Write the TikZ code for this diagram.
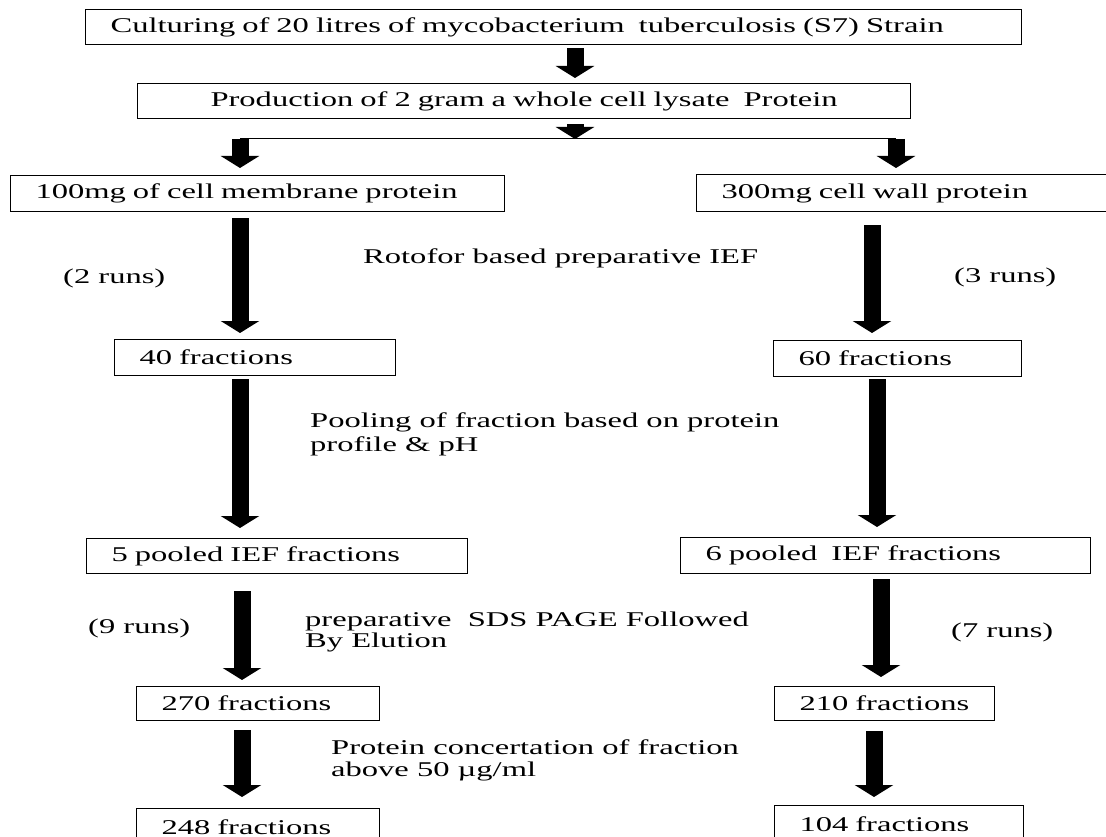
\documentclass[tikz,border=0pt]{standalone}
\usepackage{fontspec}
\setmainfont[FakeStretch=1.55]{Liberation Serif}
\usetikzlibrary{arrows.meta}
\tikzset{
  stage/.style={draw, line width=1.1pt, inner xsep=25pt, inner ysep=0pt, anchor=north west, align=left, text width=#1},
  fat/.style={line width=17pt, -{Triangle[length=12pt,width=38pt]}},
  note/.style={inner sep=0pt, align=left}
}
\begin{document}
\begin{tikzpicture}[x=1pt,y=-1pt,font=\fontsize{21}{23}\selectfont]
\useasboundingbox (0,0) rectangle (1106,837);
\clip (0,0) rectangle (1106,837);
\fill[white] (0,0) rectangle (1106,837);

\coordinate (MID) at (575,139);
\coordinate (SL) at (240,139);
\coordinate (SR) at (896,139);
\coordinate (L2) at (242,0);
\coordinate (R1) at (872,0);
\coordinate (R2) at (877,0);
\coordinate (R3) at (881,0);
\coordinate (R4) at (874,0);

\node[stage=886pt, minimum height=35pt] (CU) at (85,9) {Culturing of 20 litres of mycobacterium\ \ tuberculosis (S7) Strain};
\node[stage=723pt, minimum height=35pt, align=center] (PR) at (137,83) {Production of 2 gram a whole cell lysate\ \ Protein};
\node[stage=444pt, minimum height=36pt] (ME) at (10,175) {100mg of cell membrane protein};
\node[stage=360pt, minimum height=37pt] (CW) at (696,174) {300mg cell wall protein};
\node[stage=231pt, minimum height=36pt] (F40) at (114,339) {40 fractions};
\node[stage=198pt, minimum height=36pt] (F60) at (773,340) {60 fractions};
\node[stage=331pt, minimum height=35pt] (P5) at (86,538) {5 pooled IEF fractions};
\node[stage=360pt, minimum height=36pt] (P6) at (680,537) {6 pooled\ \ IEF fractions};
\node[stage=193pt, minimum height=34pt] (F270) at (136,686) {270 fractions};
\node[stage=170pt, minimum height=34pt] (F210) at (774,686) {210 fractions};
\node[stage=193pt, minimum height=37pt] (F248) at (136,808) {248 fractions};
\node[stage=199pt, minimum height=37pt] (F104) at (774,805) {104 fractions};

\node[note, anchor=west] (RN2) at (63,278) {(2 runs)};
\node[note, anchor=west] (ROT) at (363,258) {Rotofor based preparative IEF};
\node[note, anchor=west] (RN3) at (954,277) {(3 runs)};
\node[note, anchor=north west] (POOL) at (310,413) {Pooling of fraction based on protein\\[1pt]profile \& pH};
\node[note, anchor=west] (RN9) at (88,628) {(9 runs)};
\node[note, anchor=north west] (SDS) at (305,612) {preparative\ \ SDS PAGE Followed\\[-2pt]By Elution};
\node[note, anchor=west] (RN7) at (951,632) {(7 runs)};
\node[note, anchor=north west] (CONC) at (331,740) {Protein concertation of fraction\\[-1pt]above 50 µg/ml};

\draw[fat, shorten <=3pt, shorten >=5pt] (CU.south -| MID) -- (PR.north -| MID);
\draw[fat, shorten <=5pt] (PR.south -| MID) -- (MID);
\draw[line width=1pt] (SL) -- (SR);
\draw[fat, shorten >=7pt] (SL) -- (ME.north -| SL);
\draw[fat, shorten >=6pt] (SR) -- (CW.north -| SR);
\draw[fat, shorten <=6pt, shorten >=6pt] (ME.south -| SL) -- (F40.north -| SL);
\draw[fat, shorten <=13pt, shorten >=7pt] (CW.south -| R1) -- (F60.north -| R1);
\draw[fat, shorten <=3pt, shorten >=10pt] (F40.south -| SL) -- (P5.north -| SL);
\draw[fat, shorten <=2pt, shorten >=10pt] (F60.south -| R2) -- (P6.north -| R2);
\draw[fat, shorten <=17pt, shorten >=6pt] (P5.south -| L2) -- (F270.north -| L2);
\draw[fat, shorten <=5pt, shorten >=9pt] (P6.south -| R3) -- (F210.north -| R3);
\draw[fat, shorten <=9pt, shorten >=11pt] (F270.south -| L2) -- (F248.north -| L2);
\draw[fat, shorten <=10pt, shorten >=8pt] (F210.south -| R4) -- (F104.north -| R4);
\end{tikzpicture}
\end{document}
